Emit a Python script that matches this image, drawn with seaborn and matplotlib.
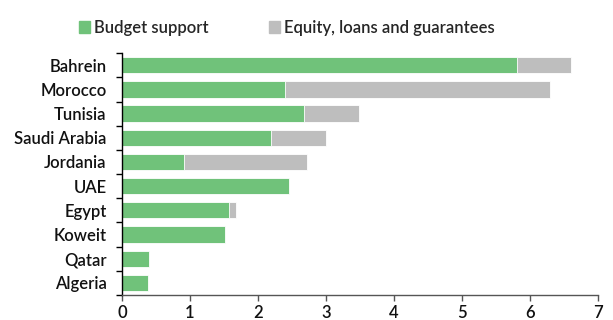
import matplotlib
matplotlib.use("Agg")
import matplotlib.pyplot as plt
import seaborn as sns
import pandas as pd
from matplotlib.patches import Patch

countries = ["Bahrein", "Morocco", "Tunisia", "Saudi Arabia", "Jordania", "UAE",
             "Egypt", "Koweit", "Qatar", "Algeria"]
budget = [5.81, 2.40, 2.68, 2.19, 0.91, 2.46, 1.57, 1.51, 0.40, 0.39]
equity = [0.80, 3.90, 0.81, 0.81, 1.81, 0.0, 0.11, 0.0, 0.0, 0.0]
xticks = [0, 1, 2, 3, 4, 5, 6, 7]

sns.set_theme(style="white")
plt.rcParams['font.family'] = ['Lato', 'DejaVu Sans']
plt.rcParams['font.weight'] = 'semibold'

df = pd.DataFrame({"country": countries, "budget": budget, "equity": equity})
df["total"] = df["budget"] + df["equity"]

green = "#70c27a"
grey = "#bebebe"

fig = plt.figure(figsize=(6.13, 3.2), dpi=100)
ax = fig.add_axes([0.199, 0.078, 0.776, 0.756])

sns.barplot(data=df, y="country", x="total", color=grey, orient="h", width=0.67,
            ax=ax, saturation=1, edgecolor="white", linewidth=0.6)
sns.barplot(data=df, y="country", x="budget", color=green, orient="h", width=0.67,
            ax=ax, saturation=1, edgecolor="white", linewidth=0.6)

ax.set_xlim(0, 7)
ax.set_ylim(len(countries) - 0.5, -0.5)
ax.set_xticks(xticks)
ax.set_xticklabels([str(t) for t in xticks], fontsize=12)
ax.set_yticks(range(len(countries)))
ax.set_yticklabels(countries, fontsize=12)
ax.tick_params(axis="y", length=0, pad=11)
ax.set_yticks([i - 0.5 for i in range(len(countries) + 1)], minor=True)
ax.tick_params(axis="y", which="minor", length=4, width=1, color="black", direction="out", left=True)
ax.tick_params(axis="x", length=4, width=1, color="#555555", direction="out", bottom=True, pad=3)
ax.set_xlabel("")
ax.set_ylabel("")
for s in ["top", "right"]:
    ax.spines[s].set_visible(False)
ax.spines["left"].set_color("black")
ax.spines["left"].set_linewidth(1)
ax.spines["bottom"].set_color("#555555")
ax.spines["bottom"].set_linewidth(1)
for lab in ax.get_xticklabels() + ax.get_yticklabels():
    lab.set_color("#111111")

handles = [Patch(color=green, label="Budget support"),
           Patch(color=grey, label="Equity, loans and guarantees")]
fig.legend(handles=handles, loc="upper center", bbox_to_anchor=(0.468, 0.985), ncol=2,
           frameon=False, fontsize=12, handlelength=0.65, handleheight=0.65,
           handletextpad=0.25, columnspacing=3.6)

fig.savefig("out.png", dpi=100)
